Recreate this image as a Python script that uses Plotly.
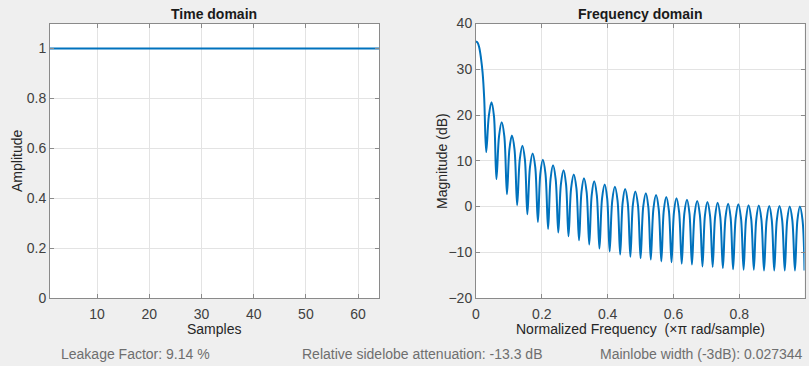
import plotly.graph_objects as go

# ---------------- data ----------------
samples = list(range(1, 65))
amplitude = [1.0] * 64

# main lobe (normalized frequency, dB)
main_f = [0.0, 0.005, 0.010, 0.015, 0.020, 0.025]
main_db = [36.1, 35.8, 34.7, 32.5, 29.3, 23.5]

# sidelobe dips
dip_f = [0.031, 0.062, 0.094, 0.125, 0.156, 0.188, 0.219, 0.250, 0.281, 0.313,
         0.344, 0.375, 0.406, 0.438, 0.469, 0.500, 0.531, 0.563, 0.594, 0.625,
         0.656, 0.688, 0.719, 0.750, 0.781, 0.813, 0.844, 0.875, 0.906, 0.938, 0.969]
dip_db = [11.9, 6.0, 2.7, 0.3, -1.7, -3.4, -4.9, -5.7, -6.5, -7.4,
          -8.3, -9.2, -9.8, -10.5, -11.0, -11.3, -11.6, -12.0, -12.2, -12.5,
          -12.7, -13.1, -13.2, -13.5, -13.7, -13.8, -13.8, -14.0, -14.0, -14.0, -14.0]

# sidelobe peaks
peak_f = [0.047, 0.078, 0.109, 0.141, 0.172, 0.203, 0.234, 0.266, 0.297, 0.328,
          0.359, 0.391, 0.422, 0.453, 0.484, 0.516, 0.547, 0.578, 0.609, 0.641,
          0.672, 0.703, 0.734, 0.766, 0.797, 0.828, 0.859, 0.891, 0.922, 0.953, 0.984]
peak_db = [22.8, 18.4, 15.5, 13.3, 11.6, 10.2, 9.0, 7.9, 7.0, 6.2,
           5.5, 4.8, 4.3, 3.8, 3.3, 2.9, 2.5, 2.1, 1.8, 1.5,
           1.2, 1.0, 0.8, 0.6, 0.5, 0.3, 0.2, 0.1, 0.1, 0.0, 0.0]
# lobe shoulders (halfway between dip and peak)
shoulder_db = [19.8, 15.4, 12.5, 10.3, 8.6, 7.2, 6.0, 4.9, 4.0, 3.2,
               2.5, 1.8, 1.3, 0.8, 0.3, -0.1, -0.5, -0.9, -1.2, -1.5,
               -1.8, -2.0, -2.2, -2.4, -2.5, -2.7, -2.8, -2.9, -2.9, -3.0, -3.0]
end_f = [0.992, 0.998]
end_db = [-3.0, -14.0]

freq_ticks = [0, 0.2, 0.4, 0.6, 0.8]
time_ticks = [10, 20, 30, 40, 50, 60]
amp_ticks = [0, 0.2, 0.4, 0.6, 0.8, 1]
db_ticks = [-20, -10, 0, 10, 20, 30, 40]

# assemble frequency curve
fx = list(main_f)
fy = list(main_db)
for i in range(len(dip_f)):
    fx.append(dip_f[i]); fy.append(dip_db[i])
    nxt = dip_f[i + 1] if i + 1 < len(dip_f) else 1.0
    fx.append((dip_f[i] + peak_f[i]) / 2); fy.append(shoulder_db[i])
    fx.append(peak_f[i]); fy.append(peak_db[i])
    if i + 1 < len(dip_f):
        fx.append((peak_f[i] + nxt) / 2); fy.append(shoulder_db[i])
fx += end_f
fy += end_db

W, H = 809, 366
BLUE = "#0072BD"
FONT = "Liberation Sans, Arial, Helvetica, sans-serif"

def px(x):
    return x / W

def py(y):
    return 1 - y / H

fig = go.Figure()
fig.add_trace(go.Scatter(x=samples, y=amplitude, mode="lines",
                         line=dict(color=BLUE, width=2), xaxis="x", yaxis="y",
                         showlegend=False))
fig.add_trace(go.Scatter(x=fx, y=fy, mode="lines",
                         line=dict(color=BLUE, width=2, shape="spline", smoothing=1),
                         xaxis="x2", yaxis="y2", showlegend=False))

axis_common = dict(showline=True, linecolor="#8a8a8a", linewidth=1, mirror="ticks",
                   ticks="inside", ticklen=4, tickcolor="#8a8a8a",
                   showgrid=True, gridcolor="#e3e3e3", gridwidth=1, zeroline=False,
                   tickfont=dict(family=FONT, size=14, color="#404040"))

fig.update_layout(
    width=W, height=H,
    margin=dict(l=0, r=0, t=0, b=0, autoexpand=False),
    paper_bgcolor="#efefef", plot_bgcolor="#ffffff",
    font=dict(family=FONT, size=14, color="#333"),
    xaxis=dict(domain=[px(50), px(379)], range=[1, 64], tickvals=time_ticks,
               anchor="y", ticklabelstandoff=3, **axis_common),
    yaxis=dict(domain=[py(298), py(23.5)], range=[0, 1.1], tickvals=amp_ticks,
               anchor="x", **axis_common),
    xaxis2=dict(domain=[px(476), px(804.5)], range=[0, 0.998], tickvals=freq_ticks,
                anchor="y2", ticklabelstandoff=3, **axis_common),
    yaxis2=dict(domain=[py(298), py(23.5)], range=[-20, 40], tickvals=db_ticks,
                anchor="x2", **axis_common),
)

ann = []
def text(t, x, y, size=14, color="#222", bold=False, xanchor="center", angle=0):
    ann.append(dict(text=("<b>%s</b>" % t) if bold else t, x=px(x), y=py(y),
                    xref="paper", yref="paper", showarrow=False, xanchor=xanchor,
                    yanchor="middle", textangle=angle,
                    font=dict(family=FONT, size=size, color=color)))

text("Time domain", 214.5, 14, bold=True, color="#1a1a1a")
text("Frequency domain", 640, 14, bold=True, color="#1a1a1a")
text("Samples", 214.5, 329, color="#262626")
text("Normalized Frequency  (×π rad/sample)", 640, 329, color="#262626")
text("Amplitude", 17, 161, color="#262626", angle=-90)
text("Magnitude (dB)", 442, 161, color="#262626", angle=-90)
text("Leakage Factor: 9.14 %", 59, 354, color="#6e6e6e", xanchor="left")
text("Relative sidelobe attenuation: -13.3 dB", 300, 354, color="#6e6e6e", xanchor="left")
text("Mainlobe width (-3dB): 0.027344", 805, 354, color="#6e6e6e", xanchor="right")
fig.update_layout(annotations=ann)

fig.write_html("out.html")
